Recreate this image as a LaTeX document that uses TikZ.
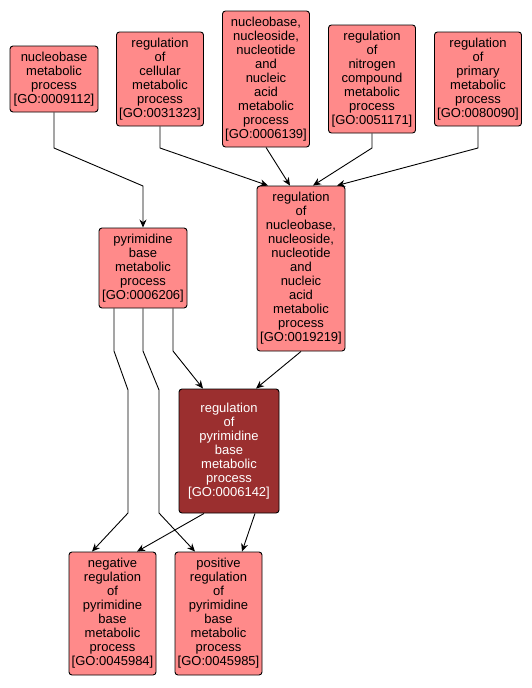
\documentclass[tikz,border=0pt]{standalone}
\usepackage{fontspec}
\setmainfont{Liberation Sans}
\usetikzlibrary{arrows.meta}

\definecolor{termfill}{HTML}{FF8A8A}
\definecolor{selffill}{HTML}{9B2F2F}

\tikzset{
  goterm/.style={draw=black, line width=0.9pt, fill=termfill, rounded corners=3pt,
    align=center, inner sep=0pt, font=\fontsize{13}{14}\selectfont},
  goself/.style={goterm, fill=selffill, text=white},
  arr/.style={-{Stealth[length=8pt,width=7pt]}, line width=0.9pt}
}

\begin{document}
\begin{tikzpicture}[x=1pt, y=-1pt]
\useasboundingbox (0,0) rectangle (531,688);

% top row
\node[goterm, minimum width=88, minimum height=66] (n9112) at (54,79)
  {nucleobase\\metabolic\\process\\{[GO:0009112]}};
\node[goterm, minimum width=87, minimum height=94] (n31323) at (160,79)
  {regulation\\of\\cellular\\metabolic\\process\\{[GO:0031323]}};
\node[goterm, minimum width=87, minimum height=136] (n6139) at (266,79)
  {nucleobase,\\nucleoside,\\nucleotide\\and\\nucleic\\acid\\metabolic\\process\\{[GO:0006139]}};
\node[goterm, minimum width=87, minimum height=108] (n51171) at (372,79)
  {regulation\\of\\nitrogen\\compound\\metabolic\\process\\{[GO:0051171]}};
\node[goterm, minimum width=87, minimum height=94] (n80090) at (478,79)
  {regulation\\of\\primary\\metabolic\\process\\{[GO:0080090]}};

% middle row
\node[goterm, minimum width=88, minimum height=80] (n6206) at (143,268)
  {pyrimidine\\base\\metabolic\\process\\{[GO:0006206]}};
\node[goterm, minimum width=88, minimum height=165] (n19219) at (301,268.5)
  {regulation\\of\\nucleobase,\\nucleoside,\\nucleotide\\and\\nucleic\\acid\\metabolic\\process\\{[GO:0019219]}};

% the term itself
\node[goself, minimum width=100, minimum height=124] (n6142) at (229,451)
  {regulation\\of\\pyrimidine\\base\\metabolic\\process\\{[GO:0006142]}};

% bottom row
\node[goterm, minimum width=87, minimum height=123] (n45984) at (112.5,613.5)
  {negative\\regulation\\of\\pyrimidine\\base\\metabolic\\process\\{[GO:0045984]}};
\node[goterm, minimum width=87, minimum height=123] (n45985) at (218.5,613.5)
  {positive\\regulation\\of\\pyrimidine\\base\\metabolic\\process\\{[GO:0045985]}};

% edges into the middle row
\draw[arr] (n9112.south) -- (54,148) -- (143,186) -- (n6206.north);
\draw[arr] (n31323.south) -- (160,148) -- ([xshift=-33]n19219.north);
\draw[arr] (n6139.south) -- ([xshift=-11]n19219.north);
\draw[arr] (n51171.south) -- (372,148) -- ([xshift=12]n19219.north);
\draw[arr] (n80090.south) -- (478,148) -- ([xshift=36]n19219.north);

% edges into the term
\draw[arr] ([xshift=30]n6206.south) -- (173,351) -- ([xshift=-26]n6142.north);
\draw[arr] (n19219.south) -- ([xshift=27]n6142.north);

% edges into the bottom row
\draw[arr] ([xshift=-29]n6206.south) -- (114,351) -- (128,390) -- (128,513)
  -- ([xshift=-20.5]n45984.north);
\draw[arr] (n6206.south) -- (143,351) -- (159,390) -- (159,513)
  -- ([xshift=-23.5]n45985.north);
\draw[arr] ([xshift=-25]n6142.south) -- ([xshift=24.5]n45984.north);
\draw[arr] ([xshift=26]n6142.south) -- ([xshift=23.5]n45985.north);
\end{tikzpicture}
\end{document}
